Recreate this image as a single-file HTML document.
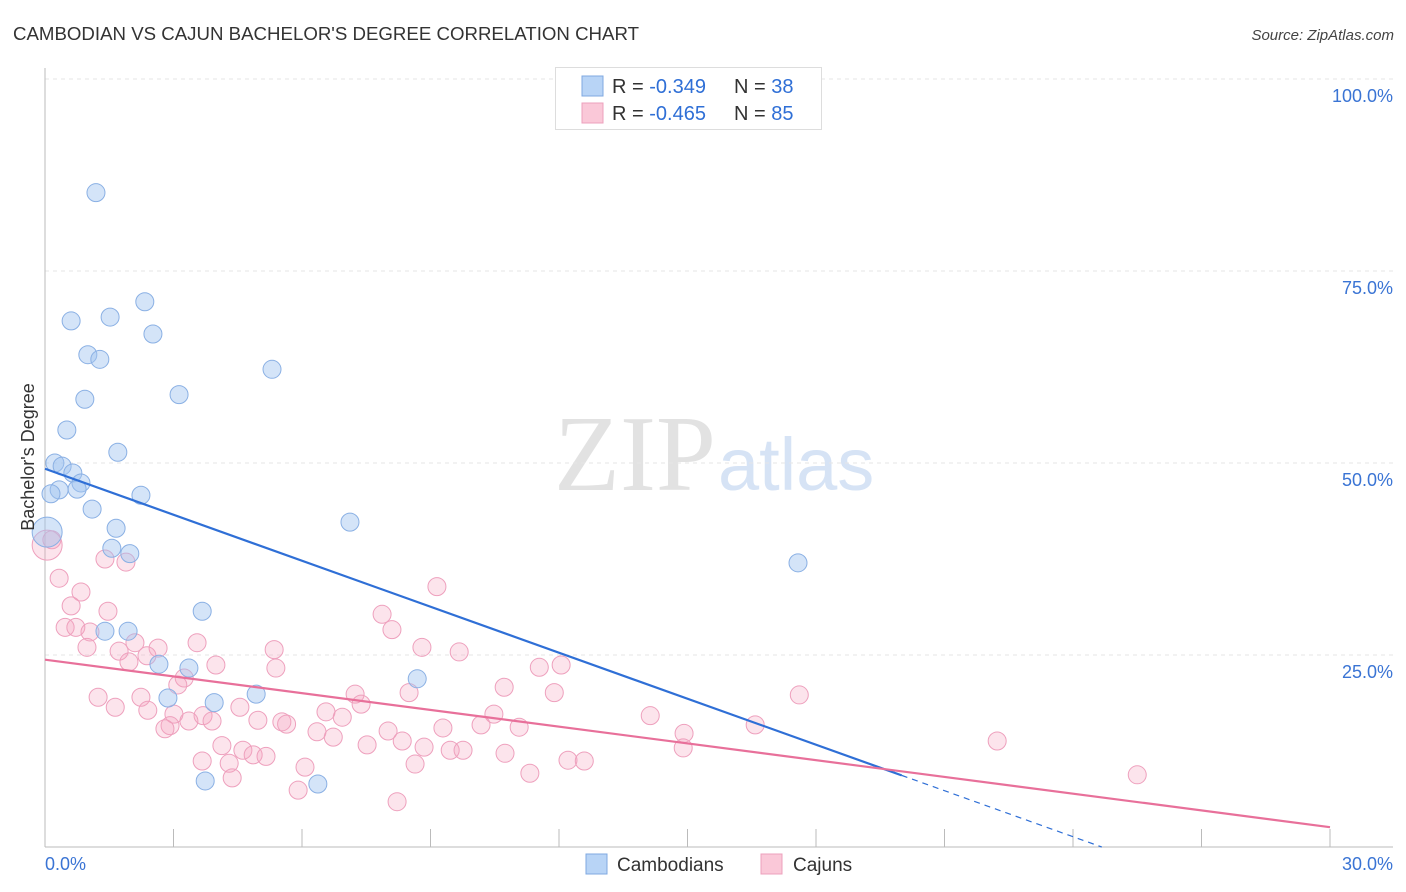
<!DOCTYPE html>
<html><head><meta charset="utf-8"><style>
body{margin:0;background:#fff;font-family:"Liberation Sans",sans-serif;}
svg{display:block}
</style></head><body>
<svg id="chart" width="1406" height="892" xmlns="http://www.w3.org/2000/svg" font-family="Liberation Sans, sans-serif">
<text x="13" y="40" font-size="18" fill="#333" textLength="626" lengthAdjust="spacingAndGlyphs">CAMBODIAN VS CAJUN BACHELOR'S DEGREE CORRELATION CHART</text>
<text x="1394" y="40" font-size="15" fill="#444" text-anchor="end" font-style="italic">Source: ZipAtlas.com</text>
<text x="716" y="490" font-size="108" fill="#e2e2e2" text-anchor="end" font-family="Liberation Serif, serif">ZIP</text>
<text x="718" y="490" font-size="74" fill="#d6e3f5">atlas</text>
<g id="grid"></g>
<g id="axes"></g>
<g id="points"></g>
<g id="lines"></g>
<text transform="translate(34,457) rotate(-90)" font-size="18" fill="#333" text-anchor="middle">Bachelor's Degree</text>
<g>
<rect x="555.5" y="67.5" width="266" height="62" fill="#fff" stroke="#ddd"/>
<rect x="582" y="76" width="21" height="20" fill="#b8d4f6" stroke="#7fa8e0"/>
<rect x="582" y="103" width="21" height="20" fill="#fac8d8" stroke="#eca0bc"/>
<text x="612" y="93" font-size="20" fill="#333">R = <tspan fill="#2f6fd6">-0.349</tspan></text>
<text x="734" y="93" font-size="20" fill="#333">N = <tspan fill="#2f6fd6">38</tspan></text>
<text x="612" y="120" font-size="20" fill="#333">R = <tspan fill="#2f6fd6">-0.465</tspan></text>
<text x="734" y="120" font-size="20" fill="#333">N = <tspan fill="#2f6fd6">85</tspan></text>
</g>
<g>
<rect x="586" y="854" width="21" height="20" fill="#b8d4f6" stroke="#7fa8e0"/>
<text x="617" y="871" font-size="19" fill="#333">Cambodians</text>
<rect x="761" y="854" width="21" height="20" fill="#fac8d8" stroke="#eca0bc"/>
<text x="793" y="871" font-size="19" fill="#333">Cajuns</text>
</g>
</svg>
<script>
const yTicks=[25,50,75,100];
const yTickLabels=["25.0%","50.0%","75.0%","100.0%"];
const xTickCount=[0,3,6,9,12,15,18,21,24,27,30];
const blueX=[1.19,2.33,0.61,1.52,2.52,1.00,1.28,5.30,0.93,3.13,0.51,1.70,0.23,0.40,0.65,0.84,0.33,0.75,0.14,2.24,1.10,7.12,1.66,0.05,1.56,1.98,17.58,3.67,1.94,1.40,3.36,2.66,8.69,4.93,2.87,3.95,3.74,6.37];
const blueY=[85.2,71.0,68.5,69.0,66.8,64.1,63.5,62.2,58.3,58.9,54.3,51.4,50.0,49.6,48.7,47.4,46.5,46.6,46.0,45.8,44.0,42.3,41.5,41.0,38.9,38.2,37.0,30.7,28.1,28.1,23.3,23.8,21.9,19.9,19.4,18.8,8.6,8.2];
const pinkX=[0.05,0.16,0.33,0.84,0.61,1.40,1.89,9.15,1.47,0.47,0.72,1.05,7.87,8.10,0.98,2.10,2.64,3.55,1.73,2.38,5.35,8.80,9.67,1.96,3.99,5.39,11.54,12.05,3.25,3.10,10.72,1.24,2.24,7.24,8.50,11.89,17.61,1.64,2.40,4.55,7.38,6.56,3.01,3.69,10.48,14.13,4.97,6.94,3.36,3.90,5.53,5.64,2.92,2.80,9.29,11.07,10.18,16.58,6.35,8.01,14.92,6.73,8.34,22.23,4.13,7.52,8.85,9.46,9.76,14.90,4.62,4.86,5.16,10.74,3.67,4.30,8.64,12.21,12.59,6.07,11.32,25.50,4.37,5.91,8.22];
const pinkY=[39.3,40.0,35.0,33.2,31.4,37.5,37.1,33.9,30.7,28.6,28.6,28.0,30.3,28.3,26.0,26.6,25.9,26.6,25.5,24.9,25.7,26.0,25.4,24.1,23.7,23.3,23.4,23.7,22.0,21.1,20.8,19.5,19.5,19.9,20.1,20.1,19.8,18.2,17.8,18.2,18.6,17.6,17.3,17.1,17.3,17.1,16.5,16.9,16.4,16.4,16.3,16.0,15.8,15.4,15.5,15.6,15.9,15.9,15.0,15.1,14.8,14.3,13.8,13.8,13.2,13.3,13.0,12.6,12.6,12.9,12.6,12.0,11.8,12.2,11.2,10.9,10.8,11.3,11.2,10.4,9.6,9.4,9.0,7.4,5.9];
const NS="http://www.w3.org/2000/svg";
const X0=45,X1=1330,Y0=847,Y100=79;
function sx(v){return X0+(X1-X0)*v/30;}
function sy(v){return Y0-(Y0-Y100)*v/100;}
function mk(tag,attrs,parent){const e=document.createElementNS(NS,tag);for(const k in attrs)e.setAttribute(k,attrs[k]);parent.appendChild(e);return e;}
const grid=document.getElementById('grid'),axes=document.getElementById('axes'),pts=document.getElementById('points'),lines=document.getElementById('lines');
yTicks.forEach((t,i)=>{
 const l=mk('line',{x1:X0,x2:1393,y1:sy(t),y2:sy(t),stroke:'#e6e6e6','stroke-dasharray':'4,4'},grid);
 
 
 const tx=mk('text',{x:1393,y:sy(t)+23,'font-size':18,fill:'#3a74d4','text-anchor':'end'},axes);
 tx.textContent=yTickLabels[i];
 
 
});
const ya=mk('line',{x1:X0,x2:X0,y1:68,y2:Y0,stroke:'#bbb'},axes);


const xa=mk('line',{x1:X0,x2:1393,y1:Y0,y2:Y0,stroke:'#bbb'},axes);


xTickCount.forEach(t=>{
 const l=mk('line',{x1:sx(t),x2:sx(t),y1:Y0,y2:Y0-18,stroke:'#bbb'},axes);
 
 
});
const xl0=mk('text',{x:45,y:870,'font-size':18,fill:'#3a74d4'},axes);xl0.textContent='0.0%';


const xl1=mk('text',{x:1393,y:870,'font-size':18,fill:'#3a74d4','text-anchor':'end'},axes);xl1.textContent='30.0%';


function drawPts(xs,ys,fill,stroke,name){
 xs.forEach((x,i)=>{
  const big=(x<0.1);
  const c=mk('circle',{cx:sx(x),cy:sy(ys[i]),r:big?15:9,fill:fill,stroke:stroke,'stroke-width':1},pts);
  
  
 });
}
drawPts(pinkX,pinkY,'rgba(245,165,192,0.3)','#eea0bd','cajun-point');
drawPts(blueX,blueY,'rgba(160,196,240,0.45)','#8ab0e4','cambodian-point');
function fit(xs,ys){const n=xs.length;let mx=0,my=0;xs.forEach((x,i)=>{mx+=x;my+=ys[i];});mx/=n;my/=n;let sxy=0,sxx=0;xs.forEach((x,i)=>{sxy+=(x-mx)*(ys[i]-my);sxx+=(x-mx)*(x-mx);});const b=sxy/sxx;return [my-b*mx,b];}
const [ba,bb]=fit(blueX,blueY);
const bEnd=20;
const bl=mk('line',{x1:sx(0),y1:sy(ba),x2:sx(bEnd),y2:sy(ba+bb*bEnd),stroke:'#2f6fd6','stroke-width':2.2},lines);


let zx=bb<0?Math.min(30,-ba/bb):30;
const bd=mk('line',{x1:sx(bEnd),y1:sy(ba+bb*bEnd),x2:sx(zx),y2:sy(ba+bb*zx),stroke:'#2f6fd6','stroke-width':1.2,'stroke-dasharray':'6,5'},lines);


const [pa,pb]=fit(pinkX,pinkY);
const pl=mk('line',{x1:sx(0),y1:sy(pa),x2:sx(30),y2:sy(pa+pb*30),stroke:'#e8709a','stroke-width':2.2},lines);


</script>
</body></html>
